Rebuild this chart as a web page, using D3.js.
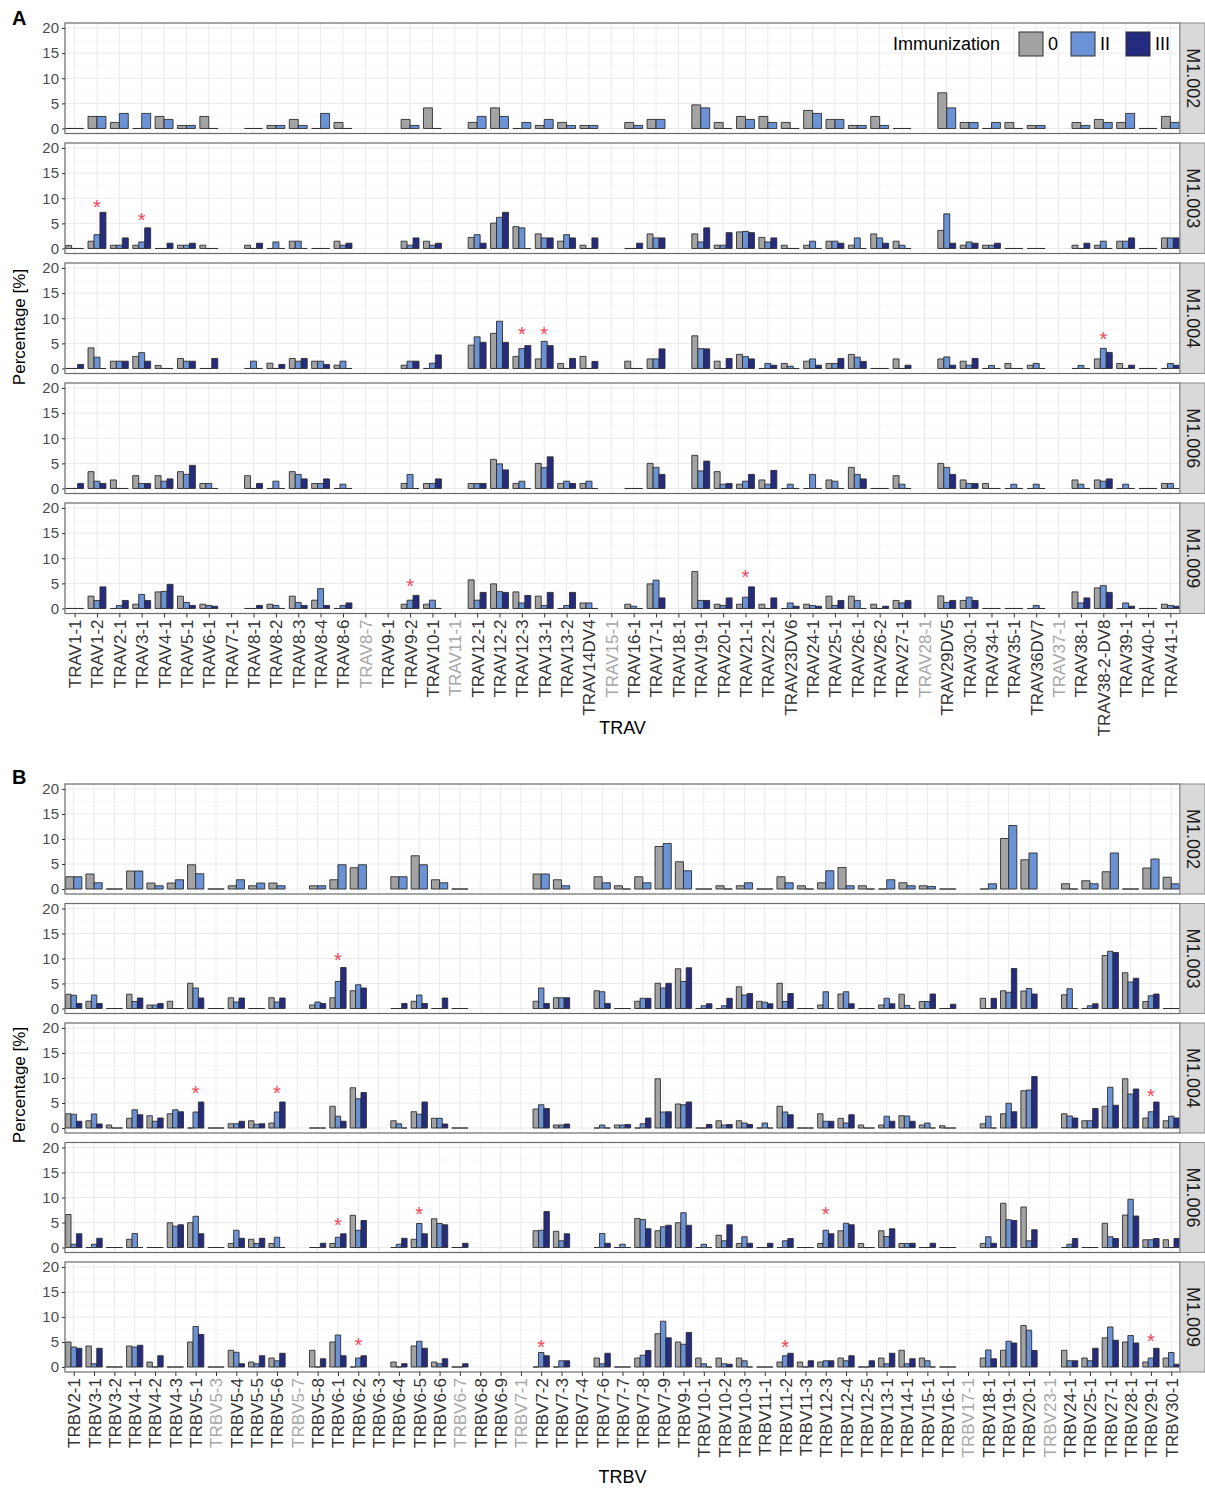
<!DOCTYPE html>
<html><head><meta charset="utf-8">
<script src="https://cdn.jsdelivr.net/npm/d3@7"></script>
<style>body{margin:0;background:#fff}svg{display:block;font-family:"Liberation Sans",Arial,sans-serif}</style>
</head><body>
<svg id="chart" width="1205" height="1488"></svg>
<script>
// ---------------- DATA ----------------
const facets = ["M1.002","M1.003","M1.004","M1.006","M1.009"];
const seriesNames = ["0","II","III"];
const seriesColors = ["#A3A3A3","#6A92D4","#252C7F"];
const yTicks = [0,5,10,15,20];

const travCategories = ["TRAV1-1","TRAV1-2","TRAV2-1","TRAV3-1","TRAV4-1","TRAV5-1","TRAV6-1","TRAV7-1","TRAV8-1","TRAV8-2",
 "TRAV8-3","TRAV8-4","TRAV8-6","TRAV8-7","TRAV9-1","TRAV9-2","TRAV10-1","TRAV11-1","TRAV12-1","TRAV12-2",
 "TRAV12-3","TRAV13-1","TRAV13-2","TRAV14DV4","TRAV15-1","TRAV16-1","TRAV17-1","TRAV18-1","TRAV19-1","TRAV20-1",
 "TRAV21-1","TRAV22-1","TRAV23DV6","TRAV24-1","TRAV25-1","TRAV26-1","TRAV26-2","TRAV27-1","TRAV28-1","TRAV29DV5",
 "TRAV30-1","TRAV34-1","TRAV35-1","TRAV36DV7","TRAV37-1","TRAV38-1","TRAV38-2-DV8","TRAV39-1","TRAV40-1","TRAV41-1"];
const travGrey = ["TRAV8-7","TRAV11-1","TRAV15-1","TRAV28-1","TRAV37-1"];

const trbvCategories = ["TRBV2-1","TRBV3-1","TRBV3-2","TRBV4-1","TRBV4-2","TRBV4-3","TRBV5-1","TRBV5-3","TRBV5-4","TRBV5-5",
 "TRBV5-6","TRBV5-7","TRBV5-8","TRBV6-1","TRBV6-2","TRBV6-3","TRBV6-4","TRBV6-5","TRBV6-6","TRBV6-7",
 "TRBV6-8","TRBV6-9","TRBV7-1","TRBV7-2","TRBV7-3","TRBV7-4","TRBV7-6","TRBV7-7","TRBV7-8","TRBV7-9",
 "TRBV9-1","TRBV10-1","TRBV10-2","TRBV10-3","TRBV11-1","TRBV11-2","TRBV11-3","TRBV12-3","TRBV12-4","TRBV12-5",
 "TRBV13-1","TRBV14-1","TRBV15-1","TRBV16-1","TRBV17-1","TRBV18-1","TRBV19-1","TRBV20-1","TRBV23-1","TRBV24-1",
 "TRBV25-1","TRBV27-1","TRBV28-1","TRBV29-1","TRBV30-1"];
const trbvGrey = ["TRBV5-3","TRBV5-7","TRBV6-7","TRBV7-1","TRBV17-1","TRBV23-1"];

// TRAV values (percentage), null = gene not detected
const trav_M1002_0 = [0,2.4,1.2,0,2.4,0.6,2.4,null,0,0.6, 1.8,0,1.2,null,null,1.8,4.1,null,1.2,4.1, 0,0.6,1.2,0.6,null,1.2,1.8,null,4.7,1.2, 2.4,2.4,1.2,3.6,1.8,0.6,2.4,0,null,7.1, 1.2,0,1.2,0.6,null,1.2,1.8,1.2,0,2.4];
const trav_M1002_II = [0,2.4,3.0,3.0,1.8,0.6,0,null,0,0.6, 0.6,3.0,0,null,null,0.6,0,null,2.4,2.4, 1.2,1.8,0.6,0.6,null,0.6,1.8,null,4.1,0, 1.8,1.2,0,3.0,1.8,0.6,0.6,0,null,4.1, 1.2,1.2,0,0.6,null,0.6,1.2,3.0,0,1.2];
const trav_M1003_0 = [0.6,1.45,0.65,0.65,0,0.65,0.65,null,0.65,0, 1.45,0,1.45,null,null,1.45,1.45,null,2.2,5.05, 4.35,2.9,1.45,0.65,null,0,2.9,null,2.9,0.65, 3.3,2.2,0.65,0.65,1.45,0.65,2.9,1.45,null,3.6, 0.65,0.65,0,0,null,0.65,0.65,1.45,0,2.1];
const trav_M1003_II = [0,2.75,0.65,1.3,0,0.65,0,null,0,1.3, 1.45,0,0.65,null,null,0.65,0.65,null,2.75,6.2, 4.1,2.1,2.75,0,null,0,2.1,null,1.3,0.65, 3.4,1.3,0,1.45,1.45,2.1,2.1,0.65,null,6.9, 1.3,0.65,0,0,null,0,1.45,1.45,0,2.1];
const trav_M1003_III = [0,7.2,2.1,4.1,1.05,1.05,0,null,1.05,0, 0,0,1.05,null,null,2.1,1.05,null,1.05,7.2, 0,2.1,2.1,2.1,null,1.05,2.1,null,4.1,3.15, 3.15,2.1,0,0,1.05,0,1.05,0,null,1.05, 1.05,1.05,0,0,null,1.05,0,2.1,0,2.1];
const trav_M1004_0 = [0,4.1,1.45,2.4,0.6,2.0,0,null,0,1.05, 2.0,1.45,0.65,null,null,0.65,0,null,4.65,7.0, 2.4,1.9,1.0,2.4,null,1.45,1.9,null,6.5,1.45, 2.8,0,1.0,1.45,1.0,2.8,0,1.9,null,1.9, 1.45,0,1.0,0.65,null,0,1.9,1.0,0,0];
const trav_M1004_II = [0,2.25,1.45,3.15,0,1.45,0,null,1.45,0, 1.45,1.45,1.45,null,null,1.45,1.05,null,6.3,9.4, 3.95,5.4,0,0,null,0,1.9,null,3.95,0, 2.35,1.0,0.45,1.9,1.0,2.25,0,0,null,2.3, 0.65,0.6,0,1.0,null,0.6,4.0,0,0,1.0];
const trav_M1004_III = [0.8,0,1.45,1.45,0,1.45,2.0,null,0,0.8, 2.0,0.8,0,null,null,1.45,2.7,null,5.2,5.2, 4.55,4.55,2.0,1.4,null,0,3.9,null,3.9,2.0, 1.9,0.65,0,0.65,2.0,1.4,0,0.65,null,0.65, 2.0,0,0,0,null,0,3.2,0.65,0,0.65];
const trav_M1006_0 = [0,3.35,1.7,2.55,2.55,3.35,1.0,null,2.55,0, 3.35,1.0,0,null,null,1.0,1.0,null,1.0,5.8, 1.0,5.0,1.0,1.0,null,0,5.0,null,6.6,3.35, 0.85,1.7,0,0,1.7,4.2,0,2.55,null,5.0, 1.7,1.0,0,0,null,1.7,1.7,0,0,1.0];
const trav_M1006_II = [0,1.45,0,1.0,1.45,2.8,1.0,null,0,1.45, 2.8,1.0,0.85,null,null,2.8,1.0,null,1.0,4.9, 1.45,4.15,1.45,1.45,null,0,4.2,null,3.5,0.85, 1.45,0.85,0.85,2.8,1.45,2.8,0,0.85,null,4.2, 1.0,0,0.85,0.85,null,0.85,1.45,0.85,0,1.0];
const trav_M1006_III = [1.0,1.0,0,1.0,1.9,4.6,0,null,1.0,0, 1.9,1.9,0,null,null,0,1.9,null,1.0,3.7, 0,6.3,1.0,0,null,0,2.8,null,5.45,1.0, 2.8,3.6,0,0,0,1.9,0,0,null,2.8, 1.0,0,0,0,null,0,1.9,0,0,0];
const trav_M1009_0 = [0,2.45,0,0.85,3.3,2.45,0.85,null,0,0.85, 2.45,1.65,0,null,null,0.85,0.85,null,5.7,4.9, 3.3,2.45,0,1.1,null,0.85,4.9,null,7.35,0.85, 0.85,0.85,0,0.85,2.45,2.45,0.85,1.6,null,2.5, 1.6,0,0,0,null,3.3,4.1,0,0,0.85];
const trav_M1009_II = [0,1.6,0.6,2.8,3.4,1.2,0.6,null,0,0.6, 1.2,3.95,0.6,null,null,1.65,1.65,null,1.65,3.35, 1.1,0.6,0.6,1.1,null,0.45,5.65,null,1.6,0.6, 2.25,0,1.1,0.6,0.6,1.6,0,1.1,null,1.2, 2.25,0,0,0.6,null,1.1,4.55,1.1,0,0.6];
const trav_M1009_III = [0,4.3,1.6,1.6,4.8,0.6,0.45,null,0.6,0, 0.6,0.6,1.1,null,null,2.6,0,null,3.2,3.2, 2.6,3.2,3.2,0,null,0,2.1,null,1.6,2.1, 4.3,2.1,0.45,0.45,1.6,0,0.45,1.6,null,1.6, 1.6,0,0,0,null,2.1,3.2,0.45,0,0.45];

// TRBV values
const trbv_M1002_0 = [2.45,3.0,0,3.6,1.2,1.2,4.85,0,0.65,0.65, 1.2,null,0.65,1.85,4.25,null,2.45,6.65,1.85,0, null,null,null,3.0,1.85,null,2.45,0.65,2.45,8.5, 5.45,0,0.65,0.65,0,2.45,0.65,1.25,4.3,0.65, 0,1.25,0.65,0,null,0,10.1,5.85,null,1.05, 1.65,3.45,0,4.2,2.35];
const trbv_M1002_II = [2.45,1.25,0,3.6,0.65,1.85,3.05,0,1.85,1.2, 0.65,null,0.65,4.85,4.85,null,2.45,4.85,1.25,0, null,null,null,3.0,0.65,null,1.25,0,1.25,9.1, 3.65,0,0,1.25,0,1.25,0,3.65,0.65,0, 1.85,0.65,0.5,0,null,1.05,12.7,7.2,null,0, 1.05,7.2,0,6.0,1.05];
const trbv_M1003_0 = [2.85,1.45,0,2.85,0.7,1.45,5.05,0,2.15,0, 2.15,null,0.7,2.15,3.55,null,0,1.45,0,0, null,null,null,1.45,2.15,null,3.55,0,1.45,5.05, 7.95,0,0,4.35,1.45,5.05,0,0.7,2.9,0, 0.7,2.85,1.4,0,null,2.05,3.55,3.5,null,2.75, 0,10.6,7.15,1.4,0];
const trbv_M1003_II = [2.65,2.7,0,1.4,0.7,0,4.1,0,1.3,0, 1.3,null,1.3,5.4,4.75,null,0,2.7,0,0, null,null,null,4.1,2.15,null,3.35,0,2.05,4.1, 5.4,0.55,0.55,2.7,1.25,1.4,0,3.35,3.35,0, 2.05,0.6,1.4,0,null,0,3.25,4.0,null,3.95, 0.55,11.45,5.3,2.55,0];
const trbv_M1003_III = [1.0,1.0,0,2.1,1.0,0,2.1,0,2.1,0, 2.1,null,1.0,8.2,4.1,null,1.0,1.0,2.1,0, null,null,null,1.0,2.15,null,1.0,0,2.05,5.05, 8.15,0.95,2.05,3.0,0.95,3.0,0,0,0.95,0, 0.95,0,2.9,0.85,null,2.05,8.0,2.9,null,0, 0.95,11.2,6.05,2.9,0];
const trbv_M1004_0 = [2.85,1.45,0.6,1.95,2.45,2.85,0,0,0.85,1.45, 1.0,null,0,4.35,8.05,null,1.45,3.25,1.95,0, null,null,null,3.8,0.6,null,0,0.6,0,9.85, 4.8,0,1.45,1.45,0,4.35,0,2.85,1.95,0.6, 0.6,2.45,0.6,0.45,null,0.85,2.85,7.45,null,2.85, 1.45,4.35,9.85,2.0,1.45];
const trbv_M1004_II = [2.75,2.8,0,3.65,1.35,3.65,3.2,0,0.85,0.75, 3.2,null,0,2.35,5.85,null,0.85,2.75,1.95,0, null,null,null,4.65,0.6,null,0.6,0.6,0.85,3.2, 4.65,0,0.6,1.0,1.0,3.2,0,1.35,1.0,0, 2.35,2.4,1.0,0,null,2.35,4.95,7.6,null,2.4, 1.45,8.15,6.8,3.25,2.35];
const trbv_M1004_III = [1.35,0.8,0,2.65,2.0,3.25,5.2,0,1.35,0.85, 5.2,null,0,1.35,7.1,null,0,5.2,0.8,0, null,null,null,3.9,0.8,null,0,0.7,2.0,3.25, 5.2,0.7,0.7,0.7,0,2.65,0,1.35,2.65,0, 1.35,1.35,0,0,null,0,3.25,10.3,null,2.0, 3.9,4.55,7.8,5.2,2.0];
const trbv_M1006_0 = [6.6,0,0,1.65,0,4.95,4.95,0,0.8,1.65, 0.8,null,0,0.8,6.45,null,0,1.65,5.75,0, null,null,null,3.35,3.25,null,0,0,5.8,3.35, 4.95,0,2.45,0.8,0,0,0,0.8,3.35,0.8, 3.35,0.8,0,0,null,0.8,8.85,8.1,null,0, 0,4.85,6.5,1.55,1.55];
const trbv_M1006_II = [0.65,0.65,0,2.8,0,4.25,6.25,0,3.45,0.8, 2.05,null,0,2.05,3.45,null,0.65,4.8,4.8,0, null,null,null,3.45,1.35,null,2.8,0.65,5.6,4.15, 6.95,0.65,1.35,2.15,0,1.35,0,3.45,4.85,0, 2.2,0.8,0,0,null,2.15,5.55,1.35,null,0.65, 0,2.15,9.65,1.55,0];
const trbv_M1006_III = [2.75,1.85,0,0,0,4.55,2.75,0,1.85,1.85, 0,null,0.85,2.75,5.4,null,1.85,2.75,4.55,0.85, null,null,null,7.2,2.75,null,0.85,0,3.75,4.45, 4.45,0,4.55,0.85,0.85,1.8,0,2.75,4.55,0, 3.75,0.85,0.85,0,null,0.85,5.4,3.55,null,1.8, 0,1.8,6.3,1.8,1.8];
const trbv_M1009_0 = [5.0,4.2,0,4.2,1.0,0,5.0,0,3.35,1.0, 1.8,null,3.35,5.0,0,null,1.0,4.2,1.0,0, null,null,null,0,0,null,1.8,0,1.8,6.65, 5.0,1.8,1.8,1.8,0,1.0,1.0,1.0,1.8,0, 1.8,3.35,1.8,0,null,1.8,3.35,8.3,null,3.35, 1.8,5.85,5.0,1.0,1.8];
const trbv_M1009_II = [4.0,0.65,0,4.0,0,0,8.1,0,2.95,0.65, 1.25,null,0,6.4,1.8,null,0,5.15,0.65,0, null,null,null,2.9,1.25,null,0.65,0,2.35,9.15, 4.55,0.65,0.65,1.25,0,2.25,0,1.25,1.25,0, 0.65,0.65,1.25,0,null,3.4,5.15,7.35,null,1.25, 1.25,8.0,6.3,1.8,2.9];
const trbv_M1009_III = [3.75,3.75,0,4.35,2.25,0,6.5,0,0.65,2.25, 2.75,null,1.65,2.25,2.25,null,0.65,3.75,1.65,0.65, null,null,null,2.25,1.25,null,2.75,0,3.3,5.85, 6.9,0,0.55,0,0,2.75,1.25,1.25,2.25,1.25, 2.75,1.65,0,0,null,1.65,4.8,3.3,null,1.25, 3.75,5.35,4.8,3.75,0.55];

// significance marks: [facet, category, y position]
const travStars = [["M1.003","TRAV1-2",9.1],["M1.003","TRAV3-1",6.4],["M1.004","TRAV12-3",7.6],["M1.004","TRAV13-1",7.6],
 ["M1.004","TRAV38-2-DV8",6.7],["M1.009","TRAV9-2",5.3],["M1.009","TRAV21-1",7.1]];
const trbvStars = [["M1.003","TRBV6-1",10.5],["M1.004","TRBV5-1",7.9],["M1.004","TRBV5-6",7.9],["M1.004","TRBV29-1",7.3],
 ["M1.006","TRBV6-1",5.4],["M1.006","TRBV6-5",7.5],["M1.006","TRBV12-3",7.5],
 ["M1.009","TRBV6-2",5.2],["M1.009","TRBV7-2",4.8],["M1.009","TRBV11-2",4.8],["M1.009","TRBV29-1",6.0]];

const travData = {
 "M1.002":[trav_M1002_0,trav_M1002_II,null],
 "M1.003":[trav_M1003_0,trav_M1003_II,trav_M1003_III],
 "M1.004":[trav_M1004_0,trav_M1004_II,trav_M1004_III],
 "M1.006":[trav_M1006_0,trav_M1006_II,trav_M1006_III],
 "M1.009":[trav_M1009_0,trav_M1009_II,trav_M1009_III]};
const trbvData = {
 "M1.002":[trbv_M1002_0,trbv_M1002_II,null],
 "M1.003":[trbv_M1003_0,trbv_M1003_II,trbv_M1003_III],
 "M1.004":[trbv_M1004_0,trbv_M1004_II,trbv_M1004_III],
 "M1.006":[trbv_M1006_0,trbv_M1006_II,trbv_M1006_III],
 "M1.009":[trbv_M1009_0,trbv_M1009_II,trbv_M1009_III]};

// ---------------- DRAW ----------------
const svg = d3.select("#chart");
svg.append("rect").attr("width",1205).attr("height",1488).attr("fill","#fff");
const L = 65, R = 1180, stripW = 25;

function drawSection(o){
  const g = svg.append("g");
  const x = d3.scalePoint().domain(o.cats).range([L,R]).padding(0.43);
  const step = x.step();
  const groupW = step*0.8;
  facets.forEach((f,fi)=>{
    const top = o.top0 + fi*o.pitch, bot = top + o.ph;
    const y = d3.scaleLinear().domain([-1,21]).range([bot,top]);
    const pg = g.append("g");
    pg.append("rect").attr("x",L).attr("y",top).attr("width",R-L).attr("height",o.ph).attr("fill","#fff");
    // minor grid
    [2.5,7.5,12.5,17.5].forEach(v=>pg.append("line").attr("x1",L).attr("x2",R).attr("y1",y(v)).attr("y2",y(v))
      .attr("stroke","#F3F3F3").attr("stroke-width",0.6));
    yTicks.forEach(v=>pg.append("line").attr("x1",L).attr("x2",R).attr("y1",y(v)).attr("y2",y(v))
      .attr("stroke","#EBEBEB").attr("stroke-width",1));
    o.cats.forEach(c=>pg.append("line").attr("x1",x(c)).attr("x2",x(c)).attr("y1",top).attr("y2",bot)
      .attr("stroke","#EBEBEB").attr("stroke-width",1));
    // bars
    const series = o.data[f];
    const present = series.map((s,i)=>s?i:-1).filter(i=>i>=0);
    const bw = groupW/present.length;
    present.forEach((si,k)=>{
      const arr = series[si];
      const bars = o.cats.map((c,i)=>({c, v:arr[i]})).filter(d=>d.v!==null);
      pg.selectAll(null).data(bars).enter().append("path")
        .attr("d",d=>{const x0=x(d.c)-groupW/2+k*bw, x1=x0+bw, y0=y(0), y1=y(d.v);
          return `M${x0},${y0}V${y1}H${x1}V${y0}Z`;})
        .attr("fill",seriesColors[si]).attr("stroke","#2E2E2E").attr("stroke-width",0.9);
    });
    // stars
    o.stars.filter(s=>s[0]===f).forEach(s=>{
      pg.append("text").attr("x",x(s[1])).attr("y",y(s[2])+11).attr("text-anchor","middle")
        .attr("font-size",20).attr("fill","#F2465C").text("*");
    });
    // border
    pg.append("rect").attr("x",L).attr("y",top).attr("width",R-L).attr("height",o.ph)
      .attr("fill","none").attr("stroke","#6B6B6B").attr("stroke-width",1.2);
    // y axis
    const ya = pg.append("g").attr("transform",`translate(${L},0)`)
      .call(d3.axisLeft(y).tickValues(yTicks).tickSize(3).tickPadding(3));
    ya.select(".domain").remove();
    ya.selectAll(".tick line").attr("stroke","#333");
    ya.selectAll(".tick text").attr("font-size",15).attr("fill","#4D4D4D").attr("font-family","Liberation Sans, Arial, sans-serif");
    // strip
    pg.append("rect").attr("x",R).attr("y",top).attr("width",stripW).attr("height",o.ph)
      .attr("fill","#D9D9D9").attr("stroke","#8C8C8C").attr("stroke-width",1);
    pg.append("text").attr("transform",`translate(${R+stripW/2},${top+o.ph/2}) rotate(90)`)
      .attr("text-anchor","middle").attr("dominant-baseline","central")
      .attr("font-size",18).attr("fill","#1A1A1A").text(f);
    // x axis on last facet
    if(fi===facets.length-1){
      const xa = pg.append("g").attr("transform",`translate(0,${bot})`)
        .call(d3.axisBottom(x).tickSize(4).tickPadding(2));
      xa.select(".domain").remove();
      xa.selectAll(".tick line").attr("stroke","#333");
      xa.selectAll(".tick text")
        .attr("font-size",17).attr("font-family","Liberation Sans, Arial, sans-serif")
        .attr("fill",d=>o.grey.includes(d)?"#A6A6A6":"#333333")
        .attr("transform","rotate(-90)").attr("text-anchor","end")
        .attr("x",-6).attr("y",0).attr("dy","0.35em");
    }
  });
  // titles
  svg.append("text").attr("x",(L+R)/2).attr("y",o.titleY).attr("text-anchor","middle")
    .attr("font-size",18).attr("fill","#000").text(o.title);
  svg.append("text").attr("transform",`translate(25,${o.ylabY}) rotate(-90)`).attr("text-anchor","middle")
    .attr("font-size",17).attr("fill","#000").text("Percentage [%]");
  svg.append("text").attr("x",12).attr("y",o.letterY).attr("font-size",20).attr("font-weight","bold")
    .attr("fill","#000").text(o.letter);
}

drawSection({cats:travCategories, grey:travGrey, data:travData, stars:travStars,
  top0:23, pitch:120, ph:110.5, title:"TRAV", titleY:734, ylabY:327, letter:"A", letterY:25});
drawSection({cats:trbvCategories, grey:trbvGrey, data:trbvData, stars:trbvStars,
  top0:784, pitch:119.5, ph:110, title:"TRBV", titleY:1483, ylabY:1085, letter:"B", letterY:784});

// legend
const lg = svg.append("g");
lg.append("text").attr("x",893).attr("y",50).attr("font-size",18).attr("fill","#000").text("Immunization");
const keyX = [1019,1071,1126], labX=[1048,1100,1155];
seriesNames.forEach((s,i)=>{
  lg.append("rect").attr("x",keyX[i]).attr("y",32).attr("width",24).attr("height",24)
    .attr("fill",seriesColors[i]).attr("stroke","#2E2E2E").attr("stroke-width",1);
  lg.append("text").attr("x",labX[i]).attr("y",50).attr("font-size",18).attr("fill","#000").text(s);
});
</script>
</body></html>
